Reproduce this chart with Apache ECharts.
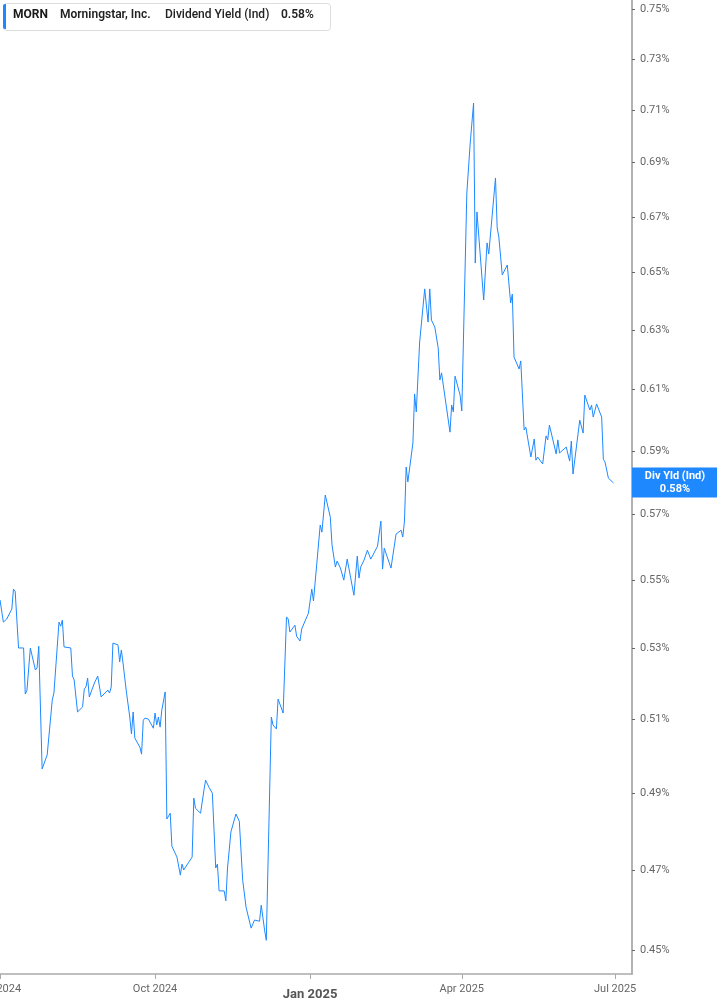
<!DOCTYPE html>
<html><head><meta charset="utf-8">
<script src="https://cdn.jsdelivr.net/npm/echarts@6/dist/echarts.min.js"></script>
<style>html,body{margin:0;padding:0;background:#fff}#c{width:717px;height:1005px}</style>
</head><body><div id="c"></div>
<script>
const dates = [
'2024-07-01','2024-07-03','2024-07-05','2024-07-08','2024-07-09','2024-07-10','2024-07-12','2024-07-15','2024-07-16','2024-07-17',
'2024-07-19','2024-07-22','2024-07-23','2024-07-24','2024-07-26','2024-07-29','2024-07-30','2024-08-01','2024-08-02','2024-08-05',
'2024-08-06','2024-08-07','2024-08-08','2024-08-12','2024-08-13','2024-08-14','2024-08-16','2024-08-19','2024-08-20','2024-08-21',
'2024-08-22','2024-08-23','2024-08-26','2024-08-28','2024-08-30','2024-09-03','2024-09-04','2024-09-05','2024-09-06','2024-09-09',
'2024-09-10','2024-09-11','2024-09-12','2024-09-14','2024-09-16','2024-09-17','2024-09-18','2024-09-19','2024-09-20','2024-09-22',
'2024-09-23','2024-09-24','2024-09-25','2024-09-27','2024-09-28','2024-09-30','2024-10-01','2024-10-02','2024-10-03','2024-10-04',
'2024-10-05','2024-10-07','2024-10-08','2024-10-09','2024-10-10','2024-10-11','2024-10-14','2024-10-16','2024-10-17','2024-10-18',
'2024-10-21','2024-10-22','2024-10-23','2024-10-24','2024-10-25','2024-10-28','2024-10-30','2024-10-31','2024-11-02','2024-11-04',
'2024-11-06','2024-11-07','2024-11-08','2024-11-11','2024-11-12','2024-11-13','2024-11-15','2024-11-18','2024-11-20','2024-11-22',
'2024-11-24','2024-11-27','2024-11-29','2024-12-02','2024-12-03','2024-12-05','2024-12-06','2024-12-09','2024-12-10','2024-12-12',
'2024-12-13','2024-12-16','2024-12-18','2024-12-19','2024-12-20','2024-12-23','2024-12-24','2024-12-26','2024-12-27','2024-12-31',
'2025-01-02','2025-01-03','2025-01-05','2025-01-07','2025-01-08','2025-01-10','2025-01-13','2025-01-14','2025-01-16','2025-01-17',
'2025-01-19','2025-01-21','2025-01-23','2025-01-27','2025-01-29','2025-01-30','2025-01-31','2025-02-02','2025-02-04','2025-02-06',
'2025-02-10','2025-02-12','2025-02-13','2025-02-14','2025-02-18','2025-02-19','2025-02-21','2025-02-24','2025-02-25','2025-02-26',
'2025-02-27','2025-02-28','2025-03-03','2025-03-04','2025-03-05','2025-03-07','2025-03-10','2025-03-12','2025-03-13','2025-03-14',
'2025-03-16','2025-03-18','2025-03-19','2025-03-20','2025-03-25','2025-03-26','2025-03-27','2025-03-28','2025-03-31','2025-04-01',
'2025-04-02','2025-04-04','2025-04-06','2025-04-08','2025-04-09','2025-04-10','2025-04-14','2025-04-16','2025-04-17','2025-04-21',
'2025-04-22','2025-04-23','2025-04-25','2025-04-26','2025-04-28','2025-04-30','2025-05-01','2025-05-02','2025-05-05','2025-05-06',
'2025-05-08','2025-05-09','2025-05-12','2025-05-14','2025-05-15','2025-05-16','2025-05-19','2025-05-20','2025-05-21','2025-05-22',
'2025-05-23','2025-05-27','2025-05-28','2025-05-29','2025-06-02','2025-06-04','2025-06-05','2025-06-06','2025-06-10','2025-06-12',
'2025-06-13','2025-06-16','2025-06-17','2025-06-18','2025-06-20','2025-06-23','2025-06-24','2025-06-25','2025-06-27','2025-06-30'
];
const yields = [
0.5442,0.5377,0.5386,0.5415,0.5474,0.5468,0.5302,0.5302,0.5171,0.5182,
0.5302,0.5239,0.5245,0.5307,0.4965,0.5003,0.5008,0.5154,0.5174,0.5377,
0.5365,0.5383,0.5305,0.5302,0.5222,0.5211,0.5121,0.5135,0.5185,0.5191,
0.5216,0.5163,0.5202,0.5222,0.5163,0.5182,0.5174,0.5191,0.5316,0.5311,
0.5262,0.5296,0.5259,0.5177,0.5107,0.5060,0.5121,0.5049,0.5049,0.5024,
0.5005,0.5098,0.5104,0.5101,0.5093,0.5076,0.5118,0.5085,0.5107,0.5079,
0.5126,0.5177,0.4832,0.4832,0.4847,0.4761,0.4733,0.4687,0.4715,0.4700,
0.4720,0.4718,0.4733,0.4887,0.4860,0.4847,0.4908,0.4935,0.4916,0.4900,
0.4705,0.4715,0.4647,0.4647,0.4622,0.4705,0.4798,0.4845,0.4826,0.4674,
0.4606,0.4554,0.4574,0.4571,0.4611,0.4549,0.4524,0.5107,0.5085,0.5074,
0.5157,0.5118,0.5392,0.5386,0.5348,0.5368,0.5336,0.5322,0.5357,0.5403,
0.5474,0.5439,0.5552,0.5668,0.5646,0.5761,0.5692,0.5607,0.5540,0.5558,
0.5537,0.5501,0.5564,0.5456,0.5573,0.5507,0.5540,0.5561,0.5591,0.5564,
0.5603,0.5680,0.5534,0.5597,0.5537,0.5543,0.5640,0.5652,0.5631,0.5680,
0.5849,0.5802,0.5926,0.6086,0.6027,0.6260,0.6443,0.6328,0.6443,0.6335,
0.6311,0.6240,0.6132,0.6156,0.5961,0.6049,0.6027,0.6145,0.6082,0.6030,
0.6027,0.6787,0.6974,0.7127,0.6534,0.6718,0.6404,0.6606,0.6566,0.6843,
0.6660,0.6627,0.6492,0.6485,0.6527,0.6394,0.6425,0.6209,0.6169,0.6196,
0.5968,0.5977,0.5881,0.5939,0.5871,0.5881,0.5859,0.5862,0.5949,0.5936,
0.5984,0.5891,0.5936,0.5894,0.5913,0.5868,0.5932,0.5827,0.6000,0.5958,
0.6082,0.6033,0.6049,0.6010,0.6053,0.6010,0.5874,0.5865,0.5814,0.5799
];
const yTickValues = [0.45,0.47,0.49,0.51,0.53,0.55,0.57,0.59,0.61,0.63,0.65,0.67,0.69,0.71,0.73,0.75];
const xTickDates = ['2024-07-01','2024-10-01','2025-01-01','2025-04-01','2025-07-01'];
const xRange = ['2024-07-01','2025-07-11'];
const monthNames = ['Jan','Feb','Mar','Apr','May','Jun','Jul','Aug','Sep','Oct','Nov','Dec'];
const ticker = 'MORN', company = 'Morningstar, Inc.', metric = 'Dividend Yield (Ind)', shortMetric = 'Div Yld (Ind)';

const BLUE = '#1e88ff';
const toTs = s => Date.parse(s + 'T00:00:00Z');
const lastValue = yields[yields.length - 1];
const seriesData = dates.map((d, i) => [toTs(d), yields[i]]);
const xTickValues = xTickDates.map(toTs);

const chart = echarts.init(document.getElementById('c'), null, {renderer: 'canvas'});
chart.setOption({
  animation: false,
  textStyle: {fontFamily: 'Roboto, Inter, sans-serif'},
  grid: {left: 0, right: 85, top: 0, bottom: 31, containLabel: false, outerBoundsMode: 'none'},
  xAxis: {
    type: 'value',
    min: toTs(xRange[0]),
    max: toTs(xRange[1]),
    axisLine: {show: true, lineStyle: {color: '#aaaaaa', width: 1.5}},
    axisTick: {show: true, length: 5, lineStyle: {color: '#aaaaaa'}, customValues: xTickValues},
    splitLine: {show: false},
    axisLabel: {
      customValues: xTickValues,
      margin: 10,
      color: '#666',
      fontSize: 11,
      showMinLabel: true,
      showMaxLabel: true,
      formatter: function (v) {
        const d = new Date(v);
        const s = monthNames[d.getUTCMonth()] + ' ' + d.getUTCFullYear();
        return d.getUTCMonth() === 0 ? '{b|' + s + '}' : s;
      },
      rich: {b: {fontSize: 13, fontWeight: 'bold', color: '#555', padding: [4, 0, 0, 0]}}
    }
  },
  yAxis: {
    type: 'log',
    logBase: 10,
    position: 'right',
    min: 0.4442,
    max: 0.7537,
    axisLine: {show: true, lineStyle: {color: '#999999', width: 1.5}},
    axisTick: {show: true, length: 3, lineStyle: {color: '#666'}, customValues: yTickValues},
    splitLine: {show: false},
    axisLabel: {
      customValues: yTickValues,
      margin: 8,
      color: '#666',
      fontSize: 11,
      formatter: function (v) { return Number(v).toFixed(2) + '%'; }
    }
  },
  series: [{
    type: 'line',
    data: seriesData,
    showSymbol: false,
    symbol: 'none',
    clip: false,
    lineStyle: {color: BLUE, width: 1},
    itemStyle: {color: BLUE},
    markLine: {
      silent: true,
      symbol: 'none',
      lineStyle: {color: 'rgba(0,0,0,0)', width: 0, type: 'solid'},
      data: [{yAxis: lastValue}],
      label: {
        show: true,
        position: 'end',
        distance: 0,
        offset: [43, 0],
        align: 'center',
        verticalAlign: 'middle',
        backgroundColor: BLUE,
        color: '#fff',
        opacity: 1,
        fontWeight: 'bold',
        fontSize: 11,
        lineHeight: 13,
        width: 72,
        padding: [2, 7, 2, 7],
        formatter: shortMetric + '\n' + lastValue.toFixed(2) + '%'
      }
    }
  }],
  graphic: [
    {type: 'rect', left: 3, top: 3, shape: {width: 327, height: 27, r: 3}, style: {fill: '#fff', stroke: '#dddddd', lineWidth: 1}, z: 10},
    {type: 'rect', left: 3, top: 4, shape: {width: 3, height: 25, r: [2, 0, 0, 2]}, style: {fill: BLUE}, z: 11},
    {type: 'text', left: 13, top: 9, style: {text: ticker, font: 'bold 12px Roboto, Inter, sans-serif', fill: '#1a1a1a'}, z: 11},
    {type: 'text', left: 60, top: 9, style: {text: company, font: '600 12px Roboto, Inter, sans-serif', fill: '#222'}, z: 11},
    {type: 'text', left: 165, top: 9, style: {text: metric, font: '500 12px Roboto, Inter, sans-serif', fill: '#222'}, z: 11},
    {type: 'text', left: 281, top: 9, style: {text: lastValue.toFixed(2) + '%', font: '600 12px Roboto, Inter, sans-serif', fill: '#222'}, z: 11}
  ]
});
</script>
</body></html>
